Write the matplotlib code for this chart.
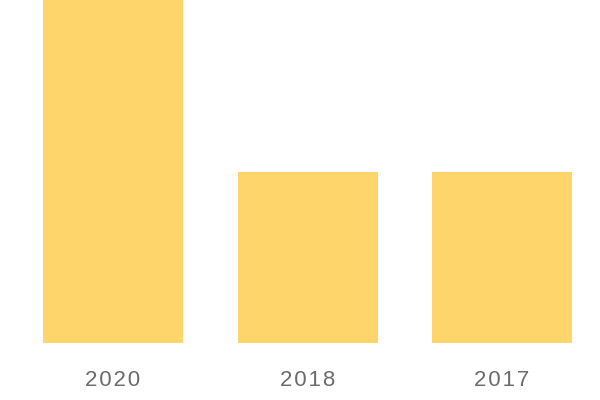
import matplotlib
matplotlib.use('Agg')
import matplotlib.pyplot as plt

years = ['2020', '2018', '2017']
values = [2.0, 1.0, 1.0]

fig = plt.figure(figsize=(6, 4), dpi=100)
ax = fig.add_axes([0, 57/400, 1, 343/400])
x = list(range(len(years)))
ax.bar(x, values, width=140/194.5, color='#fdd56a')
ax.set_xlim(-113/194.5, (600-113)/194.5)
ax.set_ylim(0, 2.0)
ax.set_xticks(x)
# a little letter spacing like the original labels
ax.set_xticklabels(['\u200a'.join(y) for y in years], fontsize=16, color='#6b6b6b',
                   family=['Liberation Sans', 'DejaVu Sans'])
ax.tick_params(axis='x', length=0, pad=19.5)
ax.set_yticks([])
for s in ax.spines.values():
    s.set_visible(False)
fig.savefig('out.png', dpi=100)
